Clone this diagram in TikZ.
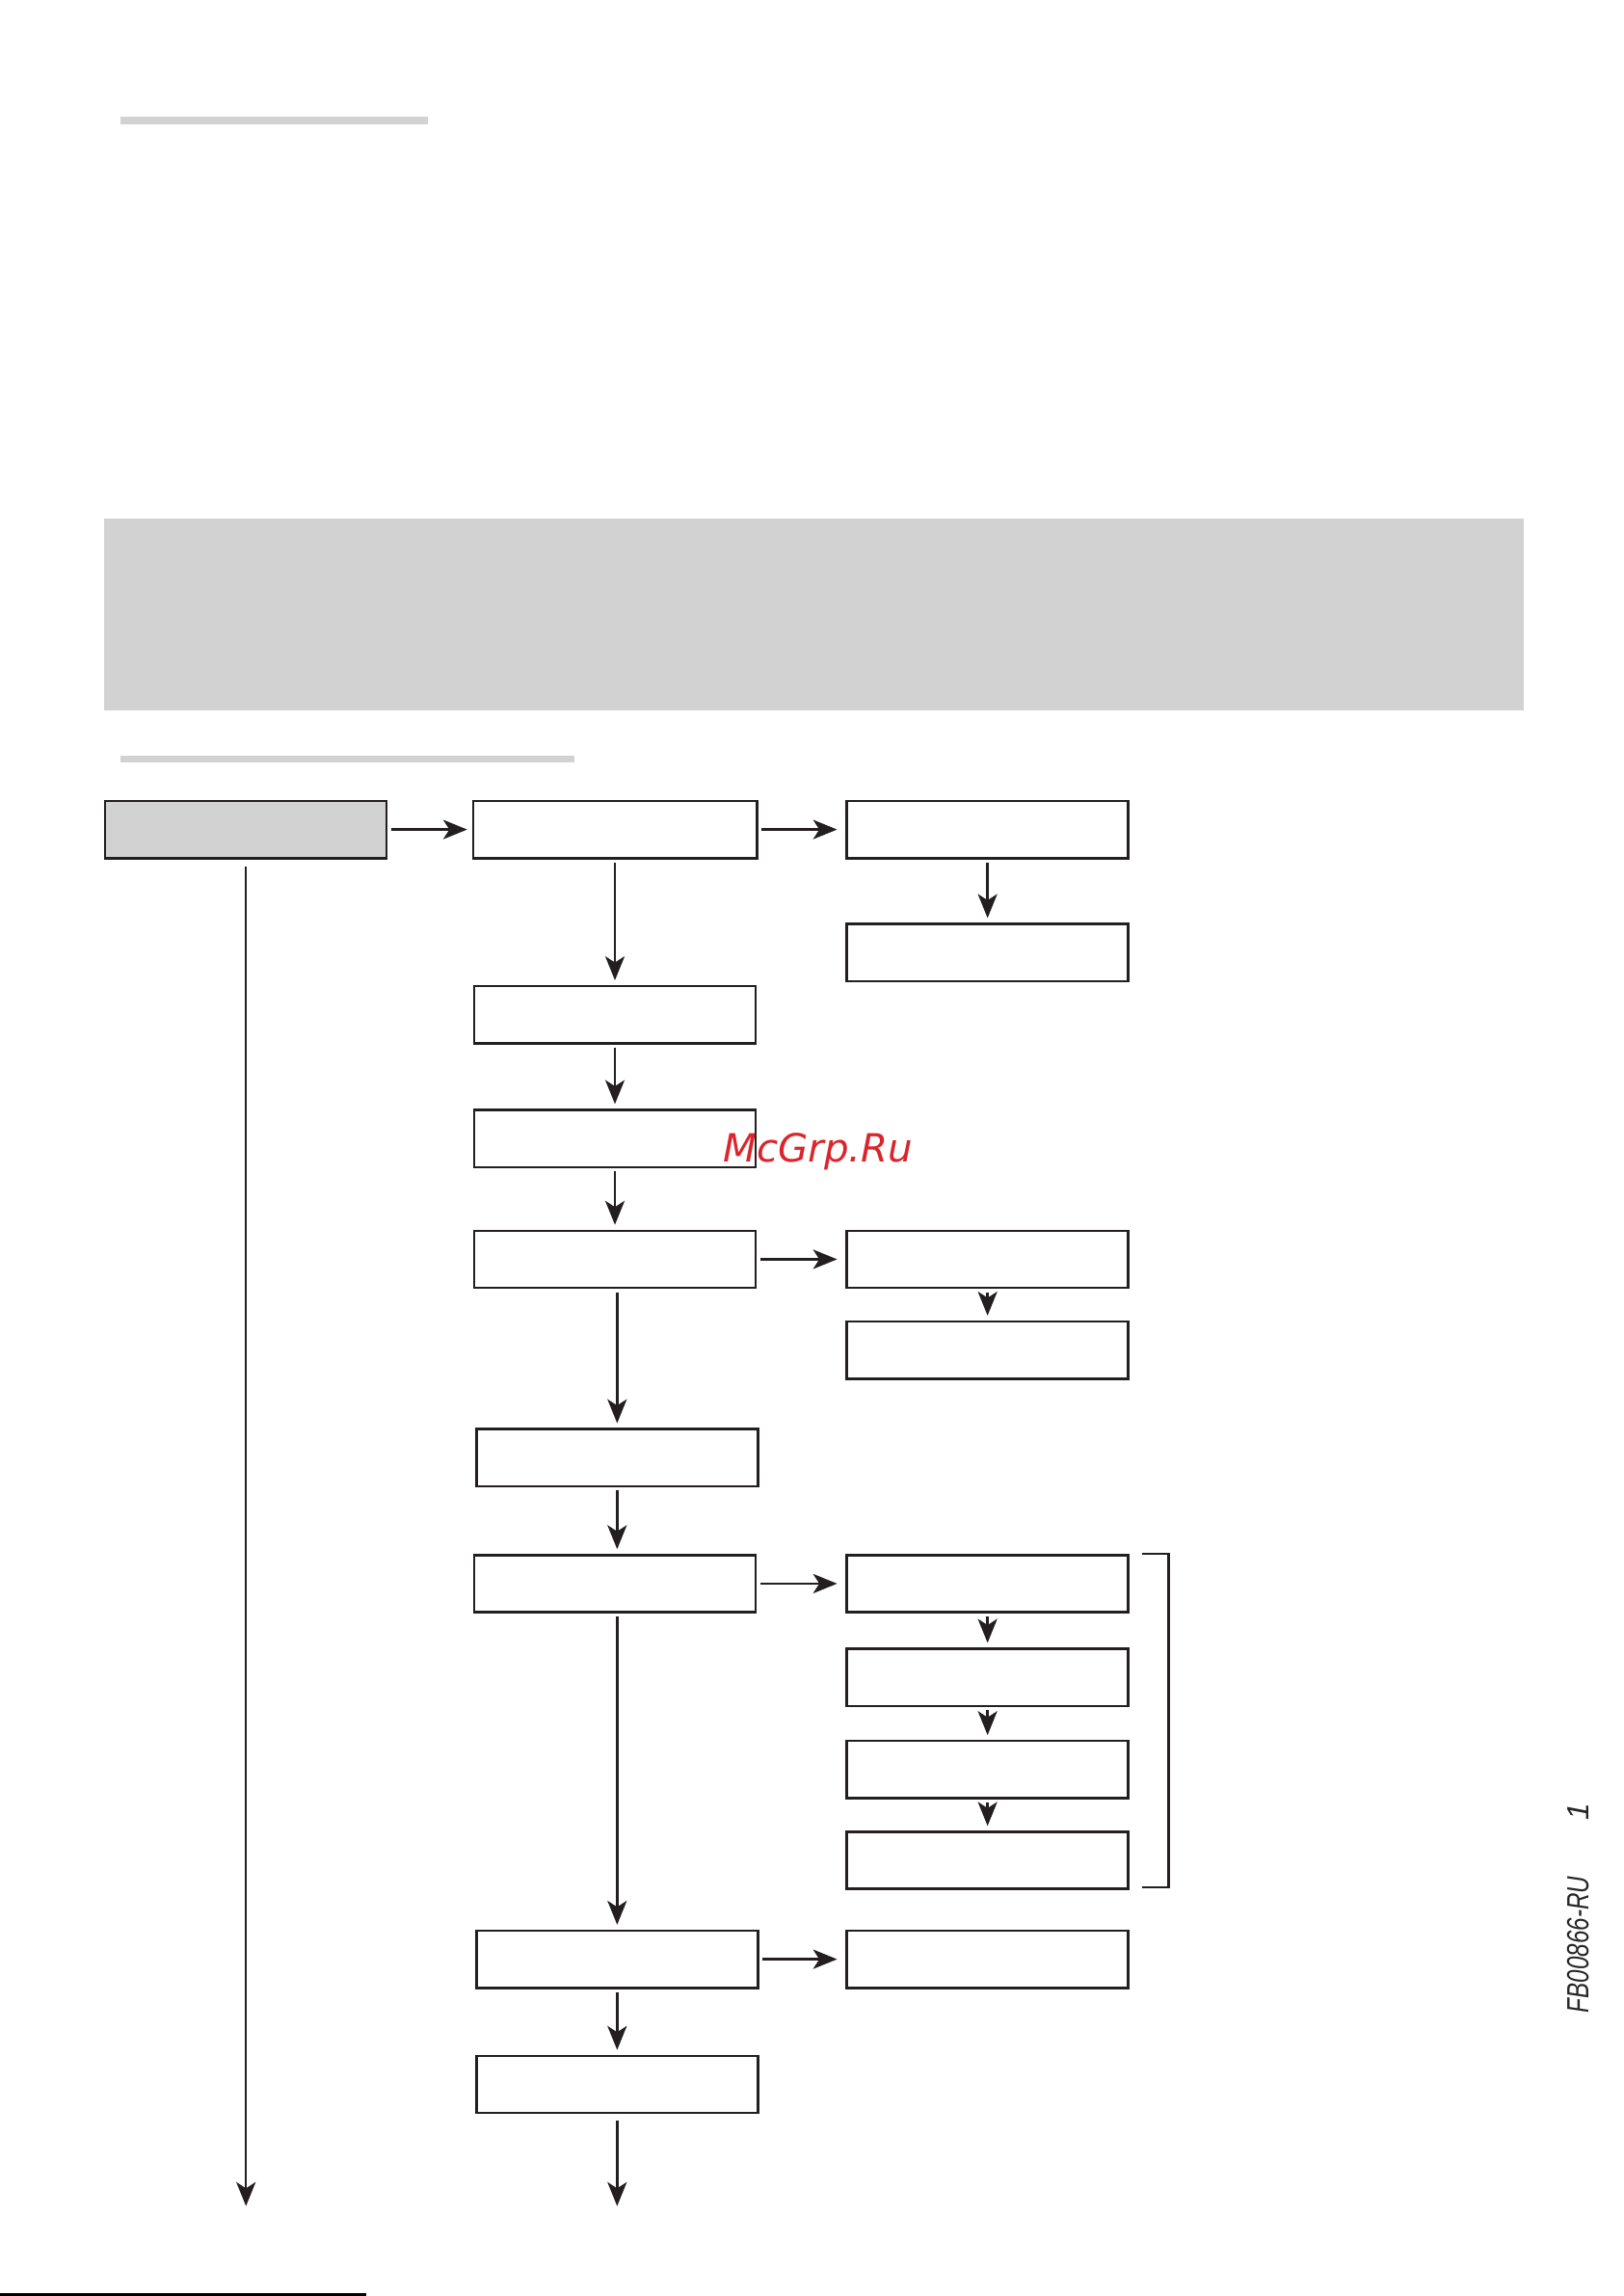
\documentclass[tikz,border=0pt]{standalone}
\usepackage{fontspec}
\setmainfont{Liberation Sans}
\newfontfamily\wmfont{DejaVu Sans}
\definecolor{ink}{RGB}{35,31,32}
\definecolor{panel}{RGB}{210,210,210}
\definecolor{wmred}{RGB}{218,37,44}
\usetikzlibrary{arrows.meta,positioning}
\tikzset{
  stage/.style={draw=ink,line width=0.9pt,minimum width=36.4mm,minimum height=7.4mm,inner sep=0pt},
  flow/.style={draw=ink,line width=0.85pt,-{Stealth[length=3.1mm,width=2.5mm,inset=0.8mm]},shorten <=0.4mm,shorten >=0.6mm},
  side/.style={flow,shorten >=1.1mm}
}

\begin{document}
\begin{tikzpicture}[x=0.18936mm,y=-0.18936mm]
      \useasboundingbox (0,0) rectangle (1109,1568);
      \fill[panel] (82,79.6) rectangle (292,84.9);
      \fill[panel] (71,354) rectangle (1041,485);
      \fill[panel] (82,516) rectangle (392,521);
      \node[stage,fill=panel] (a) at (168,566.5) {};
      \node[stage,minimum width=36.7mm] (b1) at (420,566.5) {};
      \node[stage] (c1) at (674.5,566.5) {};
      \node[stage] (c2) at (674.5,650.5) {};
      \node[stage] (b2) at (420,693) {};
      \node[stage] (b3) at (420,777.5) {};
      \node[stage] (b4) at (420,860) {};
      \node[stage] (c3) at (674.5,860) {};
      \node[stage] (c4) at (674.5,922) {};
      \node[stage] (b5) at (421.5,995.5) {};
      \node[stage] (b6) at (420,1081.5) {};
      \node[stage] (c5) at (674.5,1081.5) {};
      \node[stage] (c6) at (674.5,1145.5) {};
      \node[stage] (c7) at (674.5,1208.5) {};
      \node[stage] (c8) at (674.5,1270.5) {};
      \node[stage] (b7) at (421.5,1338) {};
      \node[stage] (c9) at (674.5,1338) {};
      \node[stage] (b8) at (421.5,1423.5) {};
      \coordinate (aend) at (168,1506.6);
      \coordinate (bend) at (421.5,1506.6);
      \draw[flow] (a) -- (b1);
      \draw[side] (b1) -- (c1);
      \draw[flow] (c1) -- (c2);
      \draw[flow] (b1) -- (b2);
      \draw[flow] (b2) -- (b3);
      \draw[flow] (b3) -- (b4);
      \draw[side] (b4) -- (c3);
      \draw[flow] (c3) -- (c4);
      \draw[flow] (b4.south -| b5) -- (b5);
      \draw[flow] (b5) -- (b6.north -| b5);
      \draw[side] (b6) -- (c5);
      \draw[flow] (c5) -- (c6);
      \draw[flow] (c6) -- (c7);
      \draw[flow] (c7) -- (c8);
      \draw[flow] (b6.south -| b7) -- (b7);
      \draw[side] (b7) -- (c9);
      \draw[flow] (b7) -- (b8);
      \draw[flow,shorten <=0.8mm,shorten >=0pt] (b8) -- (bend);
      \draw[flow,shorten <=0.95mm,shorten >=0pt] (a) -- (aend);
      \draw[ink,line width=0.9pt] (780,1061) -| (798,1289) -- (780,1289);
      \node[anchor=base west,inner sep=0pt,text=wmred,font=\wmfont\fontsize{14.3}{16}\selectfont\itshape] (wm) at (493.6,793.5) {McGrp.Ru};
      \node[rotate=90,inner sep=0pt,text=black!85,font=\fontsize{11.3}{13}\selectfont\itshape] (code) at (1078,1328) {\scalebox{0.76}[1]{FB00866-RU}};
      \node[rotate=90,inner sep=0pt,text=black!85,font=\fontsize{11.3}{13}\selectfont\itshape] (page) at (1078,1237) {1};
      \draw[black,line width=1pt] (0,1567) -- (250,1567);
    \end{tikzpicture}
\end{document}
